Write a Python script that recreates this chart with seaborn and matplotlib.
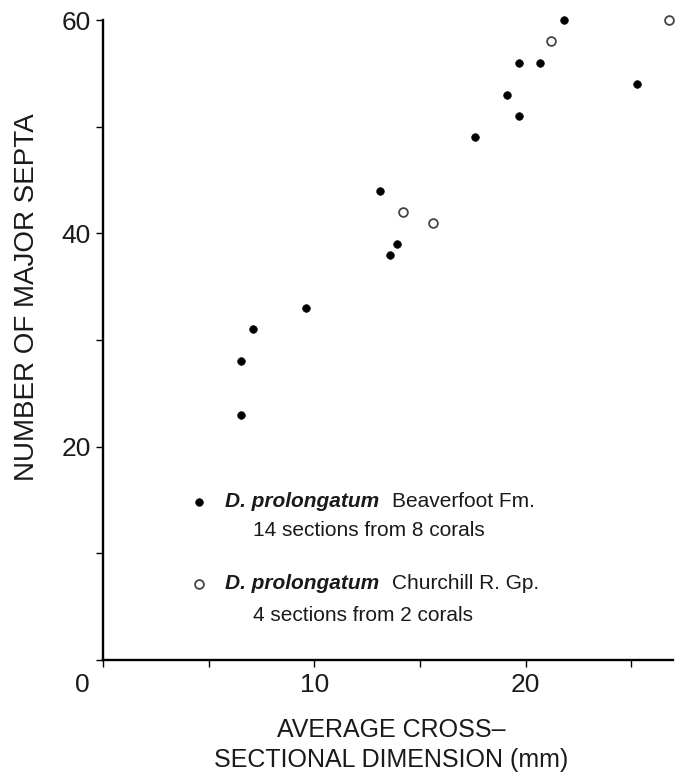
import matplotlib
matplotlib.use("Agg")
import matplotlib.pyplot as plt
import matplotlib.transforms as mtransforms
import seaborn as sns
import pandas as pd

# Beaverfoot Fm. specimens (filled dots)
beaverfoot_dim = [6.5, 6.5, 7.1, 9.6, 13.1, 13.6, 13.9, 17.6, 19.1, 19.7, 19.7, 20.7, 21.8, 25.3]
beaverfoot_septa = [23, 28, 31, 33, 44, 38, 39, 49, 53, 51, 56, 56, 60, 54]

# Churchill R. Gp. specimens (open circles)
churchill_dim = [14.2, 15.6, 21.2, 26.8]
churchill_septa = [42, 41, 58, 60]

x_ticks = [0, 5, 10, 15, 20, 25]
x_tick_labels = ["0", "", "10", "", "20", ""]
y_ticks = [0, 10, 20, 30, 40, 50, 60]
y_tick_labels = ["", "", "20", "", "40", "", "60"]

df = pd.concat([
    pd.DataFrame({"dim": beaverfoot_dim, "septa": beaverfoot_septa, "group": "Beaverfoot Fm."}),
    pd.DataFrame({"dim": churchill_dim, "septa": churchill_septa, "group": "Churchill R. Gp."}),
], ignore_index=True)

sns.set_style("ticks")
plt.rcParams["font.family"] = ["Liberation Sans", "DejaVu Sans"]

fig = plt.figure(figsize=(6.83, 7.74), dpi=100)
ax = fig.add_axes([103.3 / 683, 1 - 660 / 774, 570 / 683, 640 / 774])

filled_style = dict(color="black", s=30, marker="o", edgecolor="black", linewidth=0.5)
open_style = dict(facecolor="white", s=40, marker="o", edgecolor="#444444", linewidth=1.3)

sns.scatterplot(data=df[df["group"] == "Beaverfoot Fm."], x="dim", y="septa",
                ax=ax, clip_on=False, legend=False, zorder=3, **filled_style)
sns.scatterplot(data=df[df["group"] == "Churchill R. Gp."], x="dim", y="septa",
                ax=ax, clip_on=False, legend=False, zorder=3, **open_style)

ax.set_xlim(0, 27)
ax.set_ylim(0, 60)
ax.set_xticks(x_ticks)
ax.set_xticklabels(x_tick_labels)
ax.set_yticks(y_ticks)
ax.set_yticklabels(y_tick_labels)
ax.tick_params(axis="both", direction="out", length=5, width=1.0, color="black",
               labelsize=19, labelcolor="#1a1a1a")
ax.tick_params(axis="x", pad=4)
ax.tick_params(axis="y", pad=4)

# shift the "0" label to the left of the origin
zero_label = ax.get_xticklabels()[0]
zero_label.set_transform(zero_label.get_transform() +
                         mtransforms.ScaledTranslation(-21 / 100, 0, fig.dpi_scale_trans))

for side in ("top", "right"):
    ax.spines[side].set_visible(False)
for side in ("left", "bottom"):
    ax.spines[side].set_linewidth(1.7)
    ax.spines[side].set_color("black")

ax.set_xlabel("AVERAGE CROSS\u2013\nSECTIONAL DIMENSION (mm)", fontsize=18,
              linespacing=1.3, color="#1a1a1a")
ax.set_ylabel("NUMBER OF MAJOR SEPTA", fontsize=20, color="#1a1a1a")
ax.yaxis.set_label_coords(-0.111, 0.567)
ax.xaxis.set_label_coords(0.505, -0.091)
ax.xaxis.label.set_va("top")

# key
legend_rows = [
    (0.247, 0.203, filled_style, "Beaverfoot Fm.", "14 sections from 8 corals"),
    (0.119, 0.070, open_style, "Churchill R. Gp.", "4 sections from 2 corals"),
]
for y_top, y_sub, mstyle, locality, note in legend_rows:
    ax.scatter([0.168], [y_top], transform=ax.transAxes, clip_on=False, **mstyle)
    name = ax.text(0.2135, y_top, "D. prolongatum", transform=ax.transAxes,
                   fontsize=15, fontweight="bold", fontstyle="italic",
                   va="center", ha="left", color="#1a1a1a")
    ax.annotate(locality, xy=(1, 0.5), xycoords=name, xytext=(9, 0),
                textcoords="offset points", va="center", ha="left",
                fontsize=15, color="#1a1a1a")
    ax.text(0.263, y_sub, note, transform=ax.transAxes, fontsize=15,
            va="center", ha="left", color="#1a1a1a")

fig.savefig("out.png", dpi=100, facecolor="white")
